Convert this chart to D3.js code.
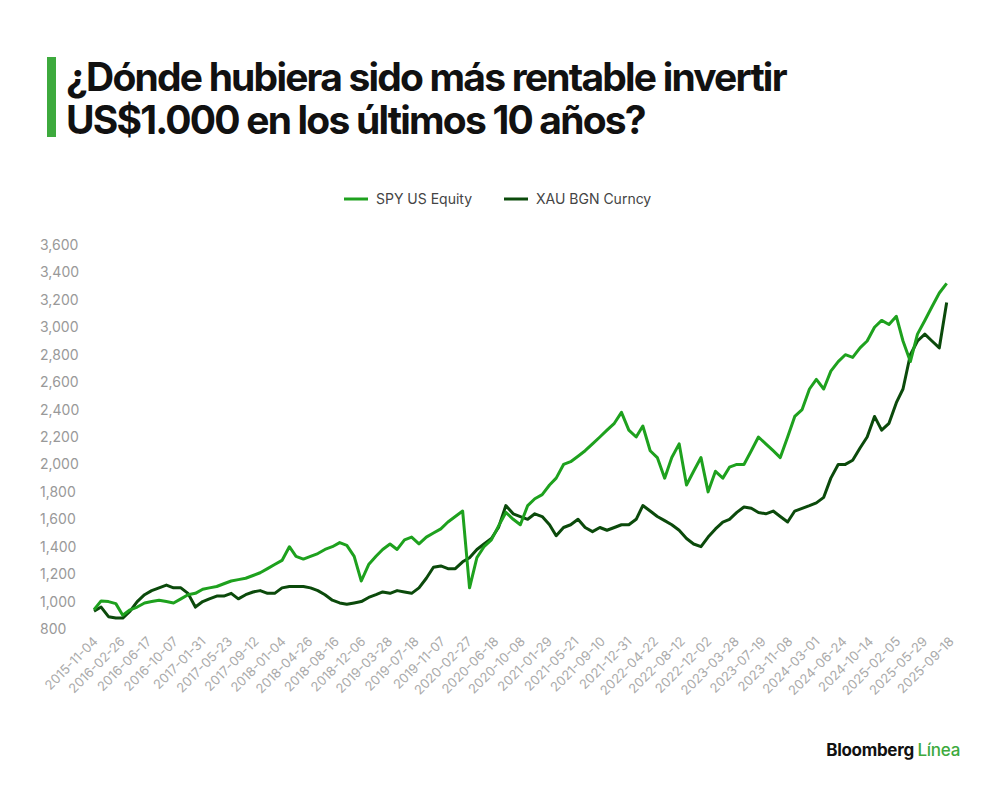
<!DOCTYPE html>
<html>
<head>
<meta charset="utf-8">
<script src="https://cdn.jsdelivr.net/npm/d3@7"></script>
<style>
  body { margin: 0; background: #fff; font-family: Inter, "Noto Sans", sans-serif; }
</style>
</head>
<body>
<svg id="svg" width="1000" height="790"></svg>
<script>
// monthly values, Nov 2015 .. Sep 2025
const spy = [940,1005,
  1000,985,900,940,960,990,1000,1010,1000,990,1020,1050,
  1060,1090,1100,1110,1130,1150,1160,1170,1190,1210,1240,1270,
  1300,1400,1330,1310,1330,1350,1380,1400,1430,1410,1330,1150,
  1270,1330,1380,1420,1380,1450,1470,1420,1470,1500,1530,1580,
  1620,1660,1100,1320,1400,1450,1550,1650,1600,1560,1700,1750,
  1780,1850,1900,2000,2020,2060,2100,2150,2200,2250,2300,2380,
  2250,2200,2280,2100,2050,1900,2050,2150,1850,1950,2050,1800,
  1950,1900,1980,2000,2000,2100,2200,2150,2100,2050,2200,2350,
  2400,2550,2620,2550,2680,2750,2800,2780,2850,2900,3000,3050,
  3020,3080,2900,2750,2950,3050,3150,3250,3320];
const xau = [930,960,
  890,880,880,930,1000,1050,1080,1100,1120,1100,1100,1060,
  960,1000,1020,1040,1040,1060,1020,1050,1070,1080,1060,1060,
  1100,1110,1110,1110,1100,1080,1050,1010,990,980,990,1000,
  1030,1050,1070,1060,1080,1070,1060,1100,1170,1250,1260,1240,
  1240,1290,1320,1380,1420,1460,1540,1700,1640,1620,1600,1640,
  1620,1560,1480,1540,1560,1600,1540,1510,1540,1520,1540,1560,
  1560,1600,1700,1660,1620,1590,1560,1520,1460,1420,1400,1470,
  1530,1580,1600,1650,1690,1680,1650,1640,1660,1620,1580,1660,
  1680,1700,1720,1760,1900,2000,2000,2030,2120,2200,2350,2250,
  2300,2450,2550,2800,2900,2950,2900,2850,3180];
const tickLabels = ["2015-11-04","2016-02-26","2016-06-17","2016-10-07","2017-01-31","2017-05-23",
  "2017-09-12","2018-01-04","2018-04-26","2018-08-16","2018-12-06","2019-03-28","2019-07-18",
  "2019-11-07","2020-02-27","2020-06-18","2020-10-08","2021-01-29","2021-05-21","2021-09-10",
  "2021-12-31","2022-04-22","2022-08-12","2022-12-02","2023-03-28","2023-07-19","2023-11-08",
  "2024-03-01","2024-06-24","2024-10-14","2025-02-05","2025-05-29","2025-09-18"];
const yTicks = [800,1000,1200,1400,1600,1800,2000,2200,2400,2600,2800,3000,3200,3400,3600];
const series = [
  { name: "SPY US Equity", values: spy, color: "#1ea11e" },
  { name: "XAU BGN Curncy", values: xau, color: "#0b4a0b" }
];

const parse = d3.timeParse("%Y-%m-%d");
const dates = spy.map((d, i) => new Date(2015, 10 + i, 4));

const svg = d3.select("#svg");
const x = d3.scaleTime().domain([parse("2015-11-04"), parse("2025-09-18")]).range([94, 950]);
const y = d3.scaleLinear().domain([800, 3600]).range([629, 245]);

// title
svg.append("rect").attr("x", 47).attr("y", 57).attr("width", 9).attr("height", 80).attr("fill", "#3daa3d");
const title = svg.append("text").attr("font-size", 39).attr("font-weight", 700)
  .attr("fill", "#111").attr("letter-spacing", -1.8);
title.append("tspan").attr("x", 66).attr("y", 91).text("¿Dónde hubiera sido más rentable invertir");
title.append("tspan").attr("x", 66).attr("y", 134).text("US$1.000 en los últimos 10 años?");

// legend
const leg = svg.append("g").attr("transform", "translate(344,199)");
series.forEach((s, i) => {
  const g = leg.append("g").attr("transform", `translate(${i * 160},0)`);
  g.append("line").attr("x1", 0).attr("x2", 24).attr("stroke", s.color).attr("stroke-width", 3);
  g.append("text").attr("x", 32).attr("y", 5).attr("font-size", 14).attr("fill", "#444").text(s.name);
});

// y axis
svg.append("g").attr("transform", "translate(40,0)")
  .call(d3.axisLeft(y).tickValues(yTicks).tickSize(0).tickFormat(d3.format(",")))
  .call(g => g.select(".domain").remove())
  .call(g => g.selectAll("text").attr("x", 0).attr("text-anchor", "start")
    .attr("font-size", 14).attr("fill", "#999").attr("font-family", "Inter, sans-serif"));

// x axis
svg.append("g").attr("transform", "translate(0,638)")
  .call(d3.axisBottom(x).tickValues(tickLabels.map(parse)).tickSize(0).tickFormat(d3.timeFormat("%Y-%m-%d")))
  .call(g => g.select(".domain").remove())
  .call(g => g.selectAll("text").attr("transform", "rotate(-45)").attr("text-anchor", "end")
    .attr("dx", 0).attr("dy", 0).attr("y", 6)
    .attr("font-size", 13).attr("fill", "#aaa").attr("font-family", "Inter, sans-serif"));

// lines
const line = d3.line().x((d, i) => x(dates[i])).y(d => y(d));
series.slice().reverse().forEach(s => {
  svg.append("path").datum(s.values).attr("d", line).attr("fill", "none")
    .attr("stroke", s.color).attr("stroke-width", 3).attr("stroke-linejoin", "round");
});

// logo
const logo = svg.append("text").attr("x", 960).attr("y", 756).attr("text-anchor", "end")
  .attr("font-size", 17).attr("font-weight", 700).attr("letter-spacing", -0.3);
logo.append("tspan").attr("fill", "#111").text("Bloomberg ");
logo.append("tspan").attr("fill", "#3daa3d").attr("font-weight", 500).text("Línea");
</script>
</body>
</html>
